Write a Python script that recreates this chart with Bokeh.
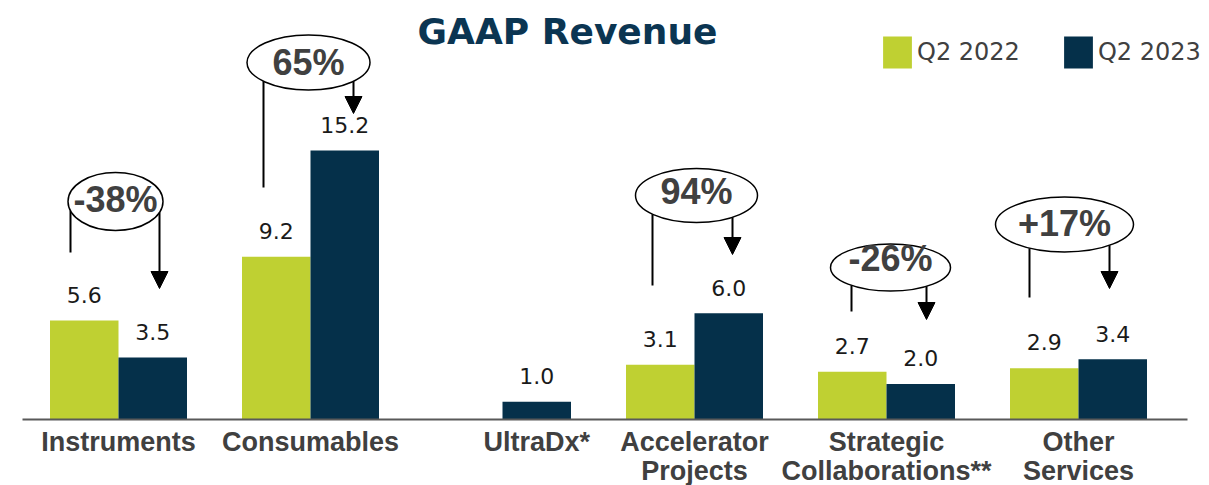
import math
import numpy as np
from bokeh.plotting import figure
from bokeh.models import Range1d, Arrow, NormalHead, Legend, LegendItem
from bokeh.core.properties import value
from bokeh.embed import file_html
from bokeh.resources import INLINE

# ---------------- data ----------------
categories = ["Instruments", "Consumables", "UltraDx*", "Accelerator\nProjects",
              "Strategic\nCollaborations**", "Other\nServices"]
q2_2022 = [5.6, 9.2, None, 3.1, 2.7, 2.9]
q2_2023 = [3.5, 15.2, 1.0, 6.0, 2.0, 3.4]
changes = ["-38%", "65%", None, "94%", "-26%", "+17%"]
series_names = ["Q2 2022", "Q2 2023"]
title_text = "GAAP Revenue"

# ---------------- styles / layout ----------------
W, H = 1209, 485
PX_X = 192.0     # pixels per category
X0 = 118.0       # pixel x of category 0 centre
PX_Y = 17.7      # pixels per unit of value
BASE = 419.0     # pixel y of the baseline
GREEN = "#BFD032"
NAVY = "#05304A"
GREY = "#404040"
TITLE_C = "#0B3552"
BL = 0.40        # baseline correction (em) for the text glyph


def X(px):
    return (px - X0) / PX_X


def Y(py):
    return (BASE - py) / PX_Y


def TY(py, fs):
    # pixel baseline -> data y, corrected for text rendering offset
    return Y(py - BL * fs)


p = figure(width=W, height=H, x_range=Range1d(X(0), X(W)), y_range=Range1d(Y(H), Y(0)),
           output_backend="svg", toolbar_location=None, min_border=0,
           x_axis_location=None, y_axis_location=None, outline_line_color=None)
p.grid.visible = False
p.background_fill_color = "white"
p.border_fill_color = "white"

bw = 68.5 / PX_X
off = bw / 2
idx = list(range(len(categories)))

x22 = [i - off for i, v in zip(idx, q2_2022) if v is not None]
v22 = [v for v in q2_2022 if v is not None]
x23 = [i + off for i in idx]
v23 = q2_2023

r22 = p.vbar(x=x22, top=v22, bottom=0, width=bw, fill_color=GREEN, line_color=None)
r23 = p.vbar(x=x23, top=v23, bottom=0, width=bw, fill_color=NAVY, line_color=None)

# baseline
p.segment(x0=[X(22)], y0=[0], x1=[X(1187)], y1=[0], line_color="#595959", line_width=2)

# value labels
VFS = 22
LBL = (17 + BL * VFS) / PX_Y
for xs, vs in ((x22, v22), (x23, v23)):
    p.text(x=xs, y=[v + LBL for v in vs], text=[f"{v:.1f}" for v in vs],
           text_align="center", text_baseline="alphabetic",
           text_font=value("DejaVu Sans"), text_font_size=f"{VFS}px", text_color="#1a1a1a")

# category labels
CFS = 27
lab_x, lab1, lab2 = [], [], []
for i, c in enumerate(categories):
    cx = i if q2_2022[i] is not None else i + off
    parts = c.split("\n")
    lab_x.append(cx)
    lab1.append(parts[0])
    lab2.append(parts[1] if len(parts) > 1 else "")
for txt, py in ((lab1, 452), (lab2, 481)):
    p.text(x=lab_x, y=[TY(py, CFS)] * len(lab_x), text=txt, text_align="center",
           text_baseline="alphabetic", text_font=value("Liberation Sans"),
           text_font_style="bold", text_font_size=f"{CFS}px", text_color=GREY)

# change annotations (pixel geometry): cx, cy, w, h, text baseline, left x, left end, right x, tip
ann_geom = {
    0: (115, 201, 95, 58, 213, 70, 252, 159, 288),
    1: (308, 62, 123, 55, 76, 263, 187, 353, 113),
    3: (696, 195, 122, 54, 205, 652, 285, 732, 254),
    4: (890, 267, 120, 47, 272, 851, 311, 926, 319),
    5: (1064, 224, 138, 55, 237, 1029, 297, 1109, 288),
}
PFS = 36


def edge(cx, cy, w, h, x):
    a, b = w / 2, h / 2
    r = min(1.0, abs(x - cx) / a)
    return cy + b * math.sqrt(max(0.0, 1 - r * r))


for i, ch in enumerate(changes):
    if ch is None:
        continue
    cx, cy, w, h, tb, lx, ly, rx, ty = ann_geom[i]
    p.segment(x0=[X(lx)], y0=[Y(edge(cx, cy, w, h, lx))], x1=[X(lx)], y1=[Y(ly)],
              line_color="black", line_width=2)
    p.add_layout(Arrow(x_start=X(rx), y_start=Y(edge(cx, cy, w, h, rx)), x_end=X(rx), y_end=Y(ty),
                       line_color="black", line_width=2,
                       end=NormalHead(size=17, fill_color="black", line_color="black", line_width=1)))
    p.ellipse(x=[X(cx)], y=[Y(cy)], width=w / PX_X, height=h / PX_Y,
              fill_color="white", line_color="black", line_width=1.5)
    p.text(x=[X(cx)], y=[TY(tb, PFS)], text=[ch], text_align="center", text_baseline="alphabetic",
           text_font=value("Liberation Sans"), text_font_style="bold",
           text_font_size=f"{PFS}px", text_color=GREY)

# title
TFS = 36
p.text(x=[X(567)], y=[TY(45, TFS)], text=[title_text], text_align="center", text_baseline="alphabetic",
       text_font=value("DejaVu Sans"), text_font_style="bold", text_font_size=f"{TFS}px",
       text_color=TITLE_C)

# legend
legend = Legend(items=[LegendItem(label=series_names[0], renderers=[r22]),
                       LegendItem(label=series_names[1], renderers=[r23])],
                orientation="horizontal", location=(879, H - 72),
                glyph_width=36, glyph_height=40, label_standoff=2, spacing=40,
                padding=0, margin=0, border_line_color=None, background_fill_alpha=0,
                label_text_font="DejaVu Sans", label_text_font_size="24px",
                label_text_color=GREY, label_height=40)
p.add_layout(legend)

open("out.html", "w").write(file_html(p, INLINE))
